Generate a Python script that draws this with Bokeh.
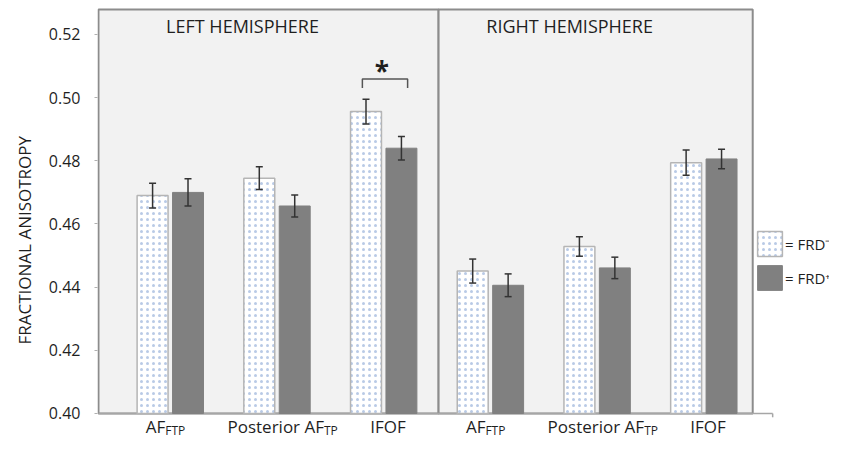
from bokeh.plotting import figure
from bokeh.models import (Range1d, FixedTicker, PrintfTickFormatter, Whisker, TeeHead,
                          ColumnDataSource, Legend, LegendItem, Title)
from bokeh.core.properties import value
from bokeh.embed import file_html
from bokeh.resources import INLINE

# ---------------- data ----------------
categories = ["AF_FTP", "Posterior AF_TP", "IFOF", "AF_FTP", "Posterior AF_TP", "IFOF"]
label_main = ["AF", "Posterior AF", "IFOF", "AF", "Posterior AF", "IFOF"]
label_sub = ["FTP", "TP", "", "FTP", "TP", ""]
hemispheres = ["LEFT HEMISPHERE", "RIGHT HEMISPHERE"]
frd_minus = [0.4690, 0.4745, 0.4956, 0.4451, 0.4529, 0.4794]
frd_minus_err = [0.0039, 0.0036, 0.0039, 0.0038, 0.0031, 0.0040]
frd_plus = [0.4700, 0.4657, 0.4840, 0.4406, 0.4461, 0.4806]
frd_plus_err = [0.0043, 0.0035, 0.0037, 0.0036, 0.0034, 0.0031]
y_ticks = [0.40, 0.42, 0.44, 0.46, 0.48, 0.50, 0.52]
y_title = "FRACTIONAL ANISOTROPY"
y_base = 0.40
sig_group = 2
sig_y = 0.5059
sig_drop = 0.0028

# ---------------- style / layout ----------------
FONT = value("Open Sans")
TXT = "#1f1f1f"
off = 0.166
bw = 0.29
panel_left, panel_div, panel_right, panel_top = -0.673, 2.514, 5.458, 0.5279
axis_end = 5.645

xs = list(range(len(categories)))
x_minus = [x - off for x in xs]
x_plus = [x + off for x in xs]

p = figure(width=829, height=443, output_backend="svg", toolbar_location=None,
           x_range=Range1d(-0.6822, 6.1776), y_range=Range1d(0.390501, 0.530765),
           x_axis_location=None, min_border_left=95, min_border_right=0,
           min_border_top=0, min_border_bottom=0)
p.outline_line_color = None
p.xgrid.grid_line_color = None
p.ygrid.grid_line_color = None

# panels
p.quad(left=[panel_left, panel_div], right=[panel_div, panel_right],
       bottom=y_base, top=panel_top, fill_color="#f2f2f2",
       line_color="#8c8c8c", line_width=2)

# baseline
p.segment(x0=[panel_left, axis_end], y0=[y_base, y_base],
          x1=[axis_end, axis_end], y1=[y_base, y_base - 0.0012],
          line_color="#a6a6a6", line_width=1.5)

# bars
src_m = ColumnDataSource(dict(x=x_minus, top=frd_minus,
                              upper=[v + e for v, e in zip(frd_minus, frd_minus_err)],
                              lower=[v - e for v, e in zip(frd_minus, frd_minus_err)]))
src_p = ColumnDataSource(dict(x=x_plus, top=frd_plus,
                              upper=[v + e for v, e in zip(frd_plus, frd_plus_err)],
                              lower=[v - e for v, e in zip(frd_plus, frd_plus_err)]))
r_m = p.vbar(x="x", top="top", bottom=y_base, width=bw, source=src_m,
             fill_color="white", line_color="#b5b5b5", line_width=1.5,
             hatch_pattern="dot", hatch_color="#b9cae6", hatch_scale=6, hatch_weight=1.1)
r_p = p.vbar(x="x", top="top", bottom=y_base, width=bw, source=src_p,
             fill_color="#808080", line_color="#808080", line_width=1)

for s in (src_m, src_p):
    p.add_layout(Whisker(base="x", upper="upper", lower="lower", source=s, level="overlay",
                         line_color="#333333", line_width=1.5,
                         upper_head=TeeHead(size=7, line_color="#333333", line_width=1.5),
                         lower_head=TeeHead(size=7, line_color="#333333", line_width=1.5)))

# significance bracket
bx0, bx1 = sig_group - 0.2, sig_group + 0.224
p.line(x=[bx0, bx0, bx1, bx1], y=[sig_y - sig_drop, sig_y, sig_y, sig_y - sig_drop],
       line_color="#555555", line_width=1.5)
p.text(x=[(bx0 + bx1) / 2 - 0.03], y=[sig_y], text=["*"], text_font=FONT, text_font_size="26px",
       text_font_style="bold", text_align="center", text_baseline="alphabetic",
       y_offset=-8, text_color=TXT)

# hemisphere titles
p.text(x=[(panel_left + panel_div) / 2, (panel_div + panel_right) / 2],
       y=[panel_top, panel_top], text=hemispheres, text_font=FONT, text_font_size="18px",
       text_align="center", text_baseline="alphabetic", x_offset=-26, y_offset=16,
       text_color=TXT)

# category labels with subscripts
dx = [-5 if s == "FTP" else (47 if s == "TP" else 22) for s in label_sub]
lab = ColumnDataSource(dict(x=xs, y=[y_base] * len(xs), main=label_main, sub=label_sub, dx=dx))
p.text(x="x", y="y", text="main", source=lab, x_offset="dx", y_offset=13,
       text_font=FONT, text_font_size="17px", text_align="right",
       text_baseline="alphabetic", text_color=TXT)
p.text(x="x", y="y", text="sub", source=lab, x_offset="dx", y_offset=17,
       text_font=FONT, text_font_size="12px", text_align="left",
       text_baseline="alphabetic", text_color=TXT)

# y axis
ya = p.yaxis[0]
ya.ticker = FixedTicker(ticks=y_ticks)
ya.formatter = PrintfTickFormatter(format="%.2f")
ya.axis_line_color = None
ya.major_tick_out = 3
ya.major_tick_in = 0
ya.minor_tick_out = 0
ya.minor_tick_in = 0
ya.major_tick_line_color = "#b0b0b0"
ya.major_label_standoff = 14
ya.major_label_text_font = "Open Sans"
ya.major_label_text_font_size = "16px"
ya.major_label_text_color = TXT

# y-axis title as a side title so it can sit where the reference has it
p.add_layout(Title(text=y_title, align="left", offset=99, standoff=20,
                   text_font="Open Sans", text_font_size="17px", text_font_style="normal",
                   text_color=TXT), "left")

# legend
legend = Legend(items=[LegendItem(label="= FRD\u207b", renderers=[r_m]),
                       LegendItem(label="= FRD\u207a", renderers=[r_p])],
                location=(657, 150), orientation="vertical",
                glyph_width=31, glyph_height=31, spacing=3, padding=0, margin=0,
                label_standoff=0, border_line_color=None, background_fill_color=None,
                label_text_font="Open Sans", label_text_font_size="15px",
                label_text_color=TXT)
p.add_layout(legend)

open("out.html", "w").write(file_html(p, INLINE))
